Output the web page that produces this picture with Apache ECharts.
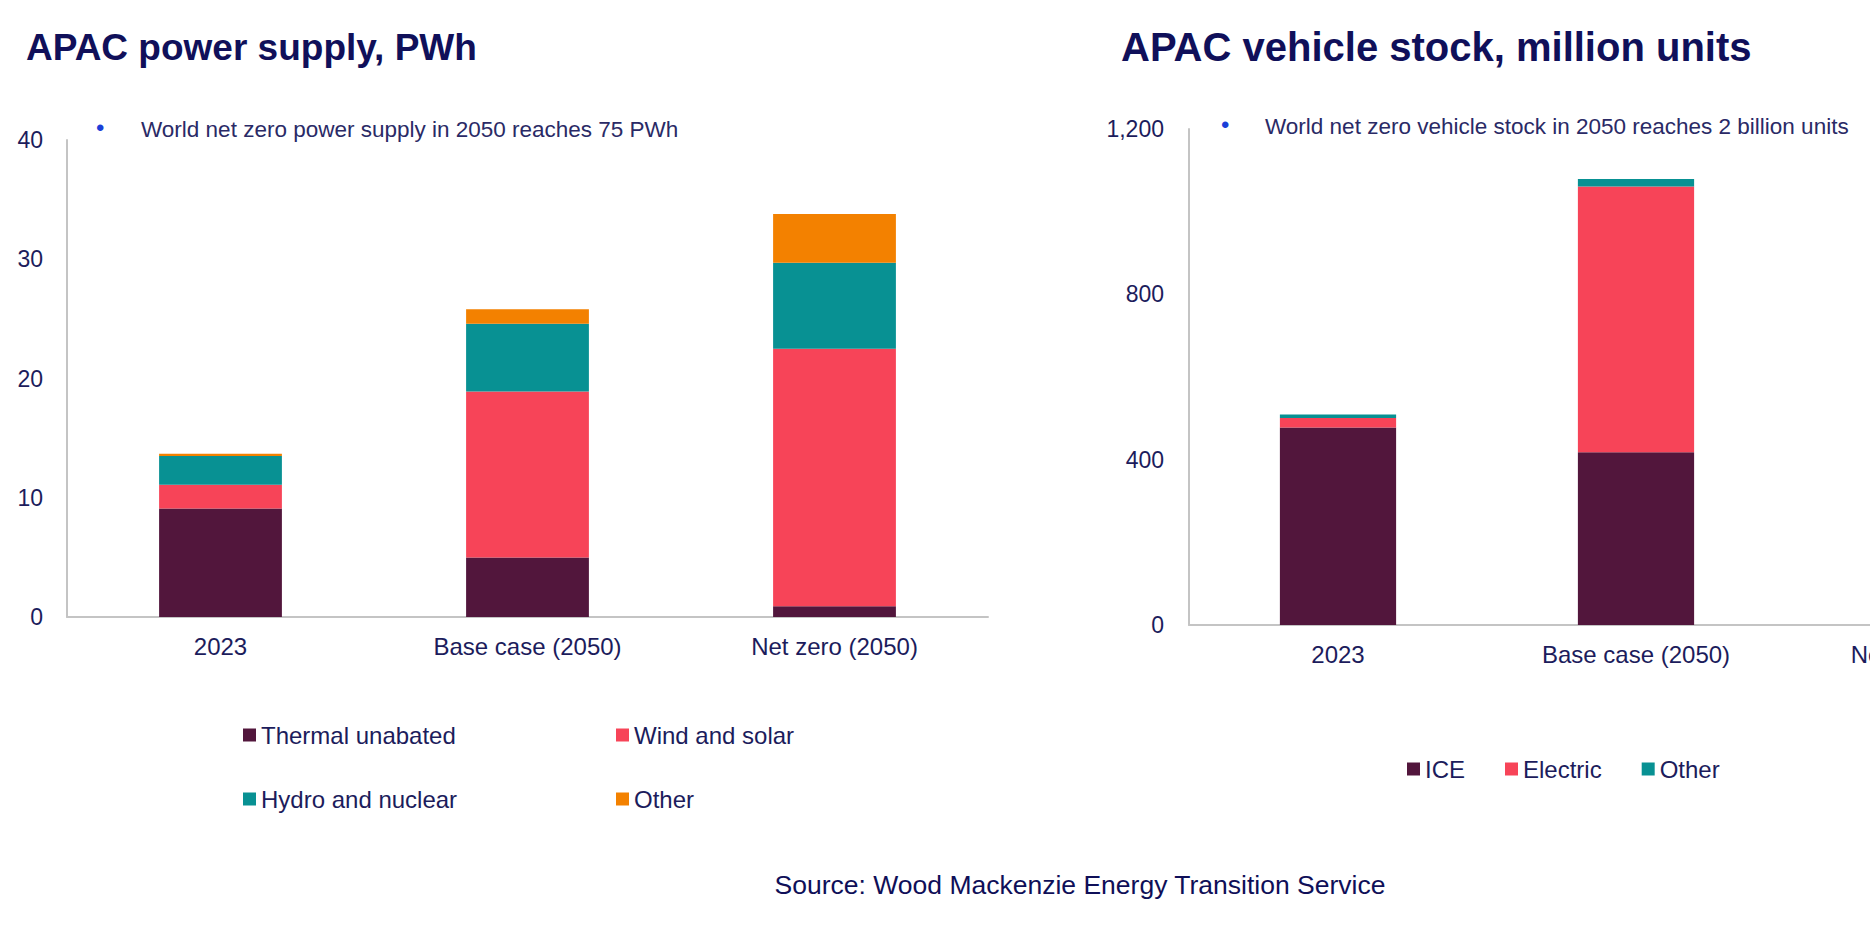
<!DOCTYPE html>
<html>
<head>
<meta charset="utf-8">
<title>APAC power supply and vehicle stock</title>
<script src="https://cdn.jsdelivr.net/npm/echarts@6/dist/echarts.min.js"></script>
<style>
    html, body { margin: 0; padding: 0; background: #fff; overflow: hidden; }
    #powerChart { position: absolute; left: 0; top: 0; width: 1870px; height: 942px; }
    #vehicleChart { position: absolute; left: 1000px; top: 0; width: 1100px; height: 942px; }
</style>
</head>
<body>
<div id="powerChart"></div>
<div id="vehicleChart"></div>
<script>
// chart data
const powerCategories = ['2023', 'Base case (2050)', 'Net zero (2050)'];
const thermalUnabated = [9.1, 5.0, 0.9];
const windSolar = [2.0, 13.9, 21.6];
const hydroNuclear = [2.4, 5.7, 7.2];
const powerOther = [0.2, 1.2, 4.1];
const powerTicks = [0, 10, 20, 30, 40];

const vehicleCategories = ['2023', 'Base case (2050)', 'Net zero (2050)'];
// net zero bar lies outside the picture, so it is left empty
const ice = [478, 418, '-'];
const electric = [23, 643, '-'];
const vehicleOther = [8, 18, '-'];
const vehicleTicks = [0, 400, 800, 1200];

const FONT = 'Arial, "Liberation Sans", sans-serif';
const NAVY = '#1c1c5c';
const colors = {
    thermal: '#52163c',
    wind: '#f74458',
    hydro: '#089193',
    other: '#f38100'
};

var PowerChart = echarts.init(document.getElementById('powerChart'), null, { renderer: 'svg' });
var VehicleChart = echarts.init(document.getElementById('vehicleChart'), null, { renderer: 'svg' });

function textItem(x, y, text, size, color, weight, align) {
    return {
        type: 'text',
        x: x,
        y: y,
        style: {
            text: text,
            fill: color,
            font: (weight || 'normal') + ' ' + size + 'px ' + FONT,
            align: align || 'left',
            verticalAlign: 'middle'
        }
    };
}

function legendItem(name, left, top) {
    return {
        data: [name],
        left: left,
        top: top,
        icon: 'rect',
        itemWidth: 13,
        itemHeight: 13,
        selectedMode: false,
        textStyle: { fontFamily: FONT, fontSize: 24, color: NAVY }
    };
}

function axisStyle() {
    return {
        axisLine: { show: true, lineStyle: { color: '#c4c4c4', width: 2 } },
        axisTick: { show: false },
        splitLine: { show: false }
    };
}

function barSeries(name, data, color, width) {
    return {
        name: name,
        type: 'bar',
        stack: 'total',
        barWidth: width,
        data: data,
        itemStyle: { color: color },
        emphasis: { disabled: true }
    };
}

// left chart: power supply
PowerChart.setOption({
    animation: false,
    grid: { left: 67, top: 140, width: 921, height: 477 },
    xAxis: Object.assign({
        type: 'category',
        data: powerCategories,
        axisLabel: { fontFamily: FONT, fontSize: 24, color: NAVY, margin: 17 }
    }, axisStyle()),
    yAxis: Object.assign({
        type: 'value',
        min: powerTicks[0],
        max: powerTicks[powerTicks.length - 1],
        interval: powerTicks[1] - powerTicks[0],
        axisLabel: { fontFamily: FONT, fontSize: 23, color: NAVY, margin: 24 }
    }, axisStyle()),
    legend: [
        legendItem('Thermal unabated', 238, 718),
        legendItem('Wind and solar', 611, 718),
        legendItem('Hydro and nuclear', 238, 782),
        legendItem('Other', 611, 782)
    ],
    series: [
        barSeries('Thermal unabated', thermalUnabated, colors.thermal, '40%'),
        barSeries('Wind and solar', windSolar, colors.wind, '40%'),
        barSeries('Hydro and nuclear', hydroNuclear, colors.hydro, '40%'),
        barSeries('Other', powerOther, colors.other, '40%')
    ],
    graphic: [
        textItem(26, 47, 'APAC power supply, PWh', 37, '#10105a', 'bold'),
        textItem(96, 127, '•', 24, '#1b3fd8'),
        textItem(141, 129, 'World net zero power supply in 2050 reaches 75 PWh', 22.5, '#2a2a66'),
        textItem(1080, 885, 'Source: Wood Mackenzie Energy Transition Service', 26.5, '#0f0f58', 'normal', 'center')
    ]
});

// right chart: vehicle stock (runs past the right edge like the reference)
VehicleChart.setOption({
    animation: false,
    grid: { left: 189, top: 129, width: 894, height: 496 },
    xAxis: Object.assign({
        type: 'category',
        data: vehicleCategories,
        axisLabel: { fontFamily: FONT, fontSize: 24, color: NAVY, margin: 17 }
    }, axisStyle()),
    yAxis: Object.assign({
        type: 'value',
        min: vehicleTicks[0],
        max: vehicleTicks[vehicleTicks.length - 1],
        interval: vehicleTicks[1] - vehicleTicks[0],
        axisLabel: {
            fontFamily: FONT, fontSize: 23, color: NAVY, margin: 25,
            formatter: v => v.toLocaleString('en-US')
        }
    }, axisStyle()),
    legend: {
        data: ['ICE', 'Electric', 'Other'],
        left: 402,
        top: 752,
        icon: 'rect',
        itemWidth: 13,
        itemHeight: 13,
        itemGap: 40,
        selectedMode: false,
        textStyle: { fontFamily: FONT, fontSize: 24, color: NAVY }
    },
    series: [
        barSeries('ICE', ice, colors.thermal, '39%'),
        barSeries('Electric', electric, colors.wind, '39%'),
        barSeries('Other', vehicleOther, colors.hydro, '39%')
    ],
    graphic: [
        textItem(121, 47, 'APAC vehicle stock, million units', 40, '#10105a', 'bold'),
        textItem(221, 124, '•', 24, '#1b3fd8'),
        textItem(265, 126, 'World net zero vehicle stock in 2050 reaches 2 billion units', 22.5, '#2a2a66')
    ]
});
</script>
</body>
</html>
